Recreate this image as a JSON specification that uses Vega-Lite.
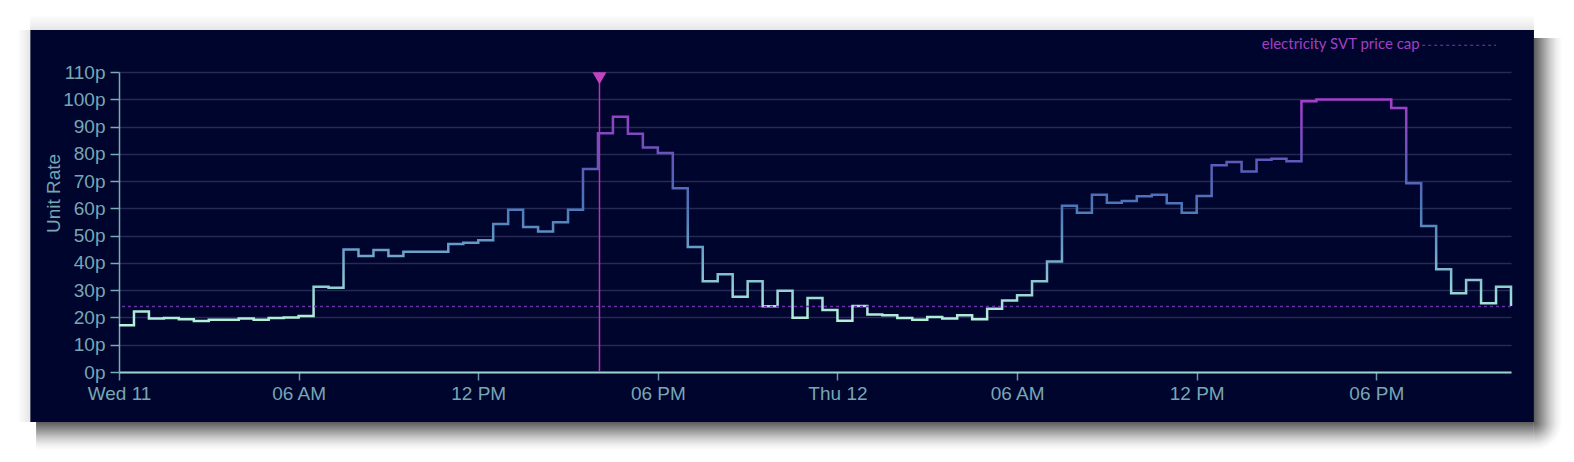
{
  "$schema": "https://vega.github.io/schema/vega-lite/v6.json",
  "width": 1392,
  "height": 300,
  "autosize": {"type": "none"},
  "padding": {"left": 119, "top": 72, "right": 63, "bottom": 90},
  "background": "#00052d",
  "config": {
    "view": {"stroke": null},
    "font": "Liberation Sans"
  },
  "resolve": {"axis": {"x": "independent", "y": "independent"}},
  "data": {
    "values": [
      {"h": 0, "v": 17.1}, {"h": 0.5, "v": 22.2}, {"h": 1, "v": 19.6}, {"h": 1.5, "v": 19.8},
      {"h": 2, "v": 19.3}, {"h": 2.5, "v": 18.7}, {"h": 3, "v": 19.2}, {"h": 3.5, "v": 19.2},
      {"h": 4, "v": 19.6}, {"h": 4.5, "v": 19.2}, {"h": 5, "v": 19.8}, {"h": 5.5, "v": 20.0},
      {"h": 6, "v": 20.5}, {"h": 6.5, "v": 31.3}, {"h": 7, "v": 30.9}, {"h": 7.5, "v": 44.9},
      {"h": 8, "v": 42.5}, {"h": 8.5, "v": 44.7}, {"h": 9, "v": 42.5}, {"h": 9.5, "v": 44.1},
      {"h": 10, "v": 44.1}, {"h": 10.5, "v": 44.1}, {"h": 11, "v": 46.9}, {"h": 11.5, "v": 47.4},
      {"h": 12, "v": 48.3}, {"h": 12.5, "v": 54.3}, {"h": 13, "v": 59.5}, {"h": 13.5, "v": 53.2},
      {"h": 14, "v": 51.5}, {"h": 14.5, "v": 54.9}, {"h": 15, "v": 59.5}, {"h": 15.5, "v": 74.4},
      {"h": 16, "v": 87.5}, {"h": 16.5, "v": 93.6}, {"h": 17, "v": 87.4}, {"h": 17.5, "v": 82.3},
      {"h": 18, "v": 80.3}, {"h": 18.5, "v": 67.4}, {"h": 19, "v": 45.8}, {"h": 19.5, "v": 33.3},
      {"h": 20, "v": 35.8}, {"h": 20.5, "v": 27.6}, {"h": 21, "v": 33.3}, {"h": 21.5, "v": 24.1},
      {"h": 22, "v": 29.8}, {"h": 22.5, "v": 19.9}, {"h": 23, "v": 27.1}, {"h": 23.5, "v": 22.7},
      {"h": 24, "v": 18.8}, {"h": 24.5, "v": 24.2}, {"h": 25, "v": 21.1}, {"h": 25.5, "v": 20.8},
      {"h": 26, "v": 19.8}, {"h": 26.5, "v": 19.2}, {"h": 27, "v": 20.2}, {"h": 27.5, "v": 19.6},
      {"h": 28, "v": 20.8}, {"h": 28.5, "v": 19.3}, {"h": 29, "v": 23.2}, {"h": 29.5, "v": 26.2},
      {"h": 30, "v": 28.1}, {"h": 30.5, "v": 33.3}, {"h": 31, "v": 40.5}, {"h": 31.5, "v": 61.0},
      {"h": 32, "v": 58.4}, {"h": 32.5, "v": 65.0}, {"h": 33, "v": 62.1}, {"h": 33.5, "v": 62.7},
      {"h": 34, "v": 64.4}, {"h": 34.5, "v": 65.0}, {"h": 35, "v": 61.9}, {"h": 35.5, "v": 58.4},
      {"h": 36, "v": 64.5}, {"h": 36.5, "v": 75.8}, {"h": 37, "v": 77.0}, {"h": 37.5, "v": 73.5},
      {"h": 38, "v": 77.8}, {"h": 38.5, "v": 78.2}, {"h": 39, "v": 77.3}, {"h": 39.5, "v": 99.3},
      {"h": 40, "v": 99.9}, {"h": 40.5, "v": 99.9}, {"h": 41, "v": 99.9}, {"h": 41.5, "v": 99.9},
      {"h": 42, "v": 99.9}, {"h": 42.5, "v": 96.8}, {"h": 43, "v": 69.2}, {"h": 43.5, "v": 53.5},
      {"h": 44, "v": 37.7}, {"h": 44.5, "v": 28.9}, {"h": 45, "v": 33.7}, {"h": 45.5, "v": 25.2},
      {"h": 46, "v": 31.3}, {"h": 46.5, "v": 24.2}
    ]
  },
  "layer": [
    {
      "mark": {
        "type": "line",
        "interpolate": "step-after",
        "strokeWidth": 2.5,
        "stroke": {
          "gradient": "linear",
          "x1": 0, "y1": 1, "x2": 0, "y2": 0,
          "stops": [
            {"offset": 0, "color": "#b8f4dc"},
            {"offset": 0.1, "color": "#a4e2d6"},
            {"offset": 0.19, "color": "#8cc8d2"},
            {"offset": 0.34, "color": "#6a9ec8"},
            {"offset": 0.52, "color": "#4c78b8"},
            {"offset": 0.7, "color": "#5a5cb8"},
            {"offset": 0.86, "color": "#8548c0"},
            {"offset": 1, "color": "#a63ecb"}
          ]
        }
      },
      "encoding": {
        "x": {
          "field": "h",
          "type": "quantitative",
          "title": null,
          "scale": {"domain": [0, 46.5], "nice": false, "zero": false},
          "axis": {
            "grid": false,
            "values": [0, 6, 12, 18, 24, 30, 36, 42],
            "tickCount": 20,
            "labelExpr": "datum.value == 0 ? 'Wed 11' : datum.value == 24 ? 'Thu 12' : (datum.value % 24 == 6 ? '06 AM' : (datum.value % 24 == 12 ? '12 PM' : '06 PM'))",
            "labelFont": "Liberation Sans",
            "labelFontSize": 19,
            "labelColor": "#78a6b4",
            "labelPadding": 4,
            "labelFlush": false,
            "labelOverlap": false,
            "domainColor": "#9ad4cc",
            "domainWidth": 2,
            "tickColor": "#6a9aaa",
            "tickWidth": 1.5,
            "tickSize": 8
          }
        },
        "y": {
          "field": "v",
          "type": "quantitative",
          "title": "Unit Rate",
          "scale": {"domain": [0, 110], "nice": false},
          "axis": {
            "grid": true,
            "values": [0, 10, 20, 30, 40, 50, 60, 70, 80, 90, 100, 110],
            "tickCount": 20,
            "labelExpr": "datum.value + 'p'",
            "labelFont": "Liberation Sans",
            "labelFontSize": 19,
            "labelColor": "#78a6b4",
            "labelPadding": 5,
            "labelFlush": false,
            "labelOverlap": false,
            "gridColor": "#262a55",
            "gridWidth": 1.5,
            "domainColor": "#78aab8",
            "domainWidth": 1.5,
            "tickColor": "#78aab8",
            "tickWidth": 1.5,
            "tickSize": 9,
            "titleFont": "Liberation Sans",
            "titleFontSize": 19,
            "titleFontWeight": "normal",
            "titleColor": "#78a6b4",
            "titleX": -66,
            "titleY": 121,
            "titleAngle": 270,
            "titleAlign": "center",
            "titleBaseline": "middle"
          }
        }
      }
    },
    {
      "data": {"values": [{}]},
      "mark": {"type": "rect", "color": "#ffffff"},
      "encoding": {
        "x": {"datum": -6, "type": "quantitative", "axis": null},
        "x2": {"datum": 52},
        "y": {"datum": 125.4, "type": "quantitative", "axis": null},
        "y2": {"datum": 145}
      }
    },
    {
      "data": {"values": [{}]},
      "mark": {"type": "rect", "color": "#ffffff"},
      "encoding": {
        "x": {"datum": -6, "type": "quantitative", "axis": null},
        "x2": {"datum": 52},
        "y": {"datum": -18.33, "type": "quantitative", "axis": null},
        "y2": {"datum": -45}
      }
    },
    {
      "data": {"values": [{}]},
      "mark": {"type": "rect", "color": "#ffffff"},
      "encoding": {
        "x": {"datum": -6, "type": "quantitative", "axis": null},
        "x2": {"datum": -2.9667},
        "y": {"datum": -45, "type": "quantitative", "axis": null},
        "y2": {"datum": 145}
      }
    },
    {
      "data": {"values": [{}]},
      "mark": {"type": "rect", "color": "#ffffff"},
      "encoding": {
        "x": {"datum": 47.2667, "type": "quantitative", "axis": null},
        "x2": {"datum": 52},
        "y": {"datum": -45, "type": "quantitative", "axis": null},
        "y2": {"datum": 145}
      }
    },
    {
      "data": {"values": [{}]},
      "mark": {
        "type": "rect",
        "fill": {"gradient": "linear", "x1": 0, "y1": 0, "x2": 1, "y2": 0,
          "stops": [
            {"offset": 0, "color": "#5c5c5c"},
            {"offset": 0.25, "color": "#8c8c8c"},
            {"offset": 0.55, "color": "#c8c8c8"},
            {"offset": 0.8, "color": "#eeeeee"},
            {"offset": 1, "color": "#ffffff"}
          ]}
      },
      "encoding": {
        "x": {"datum": 47.2667, "type": "quantitative", "axis": null},
        "x2": {"datum": 48.2034},
        "y": {"datum": 122.5, "type": "quantitative", "axis": null},
        "y2": {"datum": -18.33}
      }
    },
    {
      "data": {"values": [{}]},
      "mark": {
        "type": "rect",
        "fill": {"gradient": "linear", "x1": 0, "y1": 0, "x2": 0, "y2": 1,
          "stops": [
            {"offset": 0, "color": "#5c5c5c"},
            {"offset": 0.25, "color": "#8c8c8c"},
            {"offset": 0.55, "color": "#c8c8c8"},
            {"offset": 0.8, "color": "#eeeeee"},
            {"offset": 1, "color": "#ffffff"}
          ]}
      },
      "encoding": {
        "x": {"datum": -2.77, "type": "quantitative", "axis": null},
        "x2": {"datum": 47.2667},
        "y": {"datum": -18.33, "type": "quantitative", "axis": null},
        "y2": {"datum": -28.6}
      }
    },
    {
      "data": {"values": [{}]},
      "mark": {
        "type": "rect",
        "fill": {"gradient": "radial", "x1": 0, "y1": 0, "r1": 0, "x2": 0, "y2": 0, "r2": 1,
          "stops": [
            {"offset": 0, "color": "#5c5c5c"},
            {"offset": 0.25, "color": "#8c8c8c"},
            {"offset": 0.55, "color": "#c8c8c8"},
            {"offset": 0.8, "color": "#eeeeee"},
            {"offset": 1, "color": "#ffffff"}
          ]}
      },
      "encoding": {
        "x": {"datum": 47.2667, "type": "quantitative", "axis": null},
        "x2": {"datum": 48.2034},
        "y": {"datum": -18.33, "type": "quantitative", "axis": null},
        "y2": {"datum": -28.6}
      }
    },
    {
      "data": {"values": [{}]},
      "mark": {
        "type": "rect",
        "fill": {"gradient": "linear", "x1": 0, "y1": 0, "x2": 0, "y2": 1,
          "stops": [
            {"offset": 0, "color": "#ffffff"},
            {"offset": 1, "color": "#e6e6e6"}
          ]}
      },
      "encoding": {
        "x": {"datum": -2.9667, "type": "quantitative", "axis": null},
        "x2": {"datum": 47.2667},
        "y": {"datum": 131.0, "type": "quantitative", "axis": null},
        "y2": {"datum": 125.4}
      }
    },
    {
      "data": {"values": [{}]},
      "mark": {
        "type": "rect",
        "fill": {"gradient": "linear", "x1": 0, "y1": 0, "x2": 1, "y2": 0,
          "stops": [
            {"offset": 0, "color": "#ffffff"},
            {"offset": 1, "color": "#e6e6e6"}
          ]}
      },
      "encoding": {
        "x": {"datum": -3.4, "type": "quantitative", "axis": null},
        "x2": {"datum": -2.9667},
        "y": {"datum": 125.4, "type": "quantitative", "axis": null},
        "y2": {"datum": -18.33}
      }
    },
    {
      "data": {"values": [{}]},
      "mark": {"type": "rule", "color": "#6a2fa8", "strokeWidth": 1.5, "strokeDash": [3, 3]},
      "encoding": {
        "y": {"datum": 24.0, "type": "quantitative", "axis": null}
      }
    },
    {
      "data": {"values": [{}]},
      "mark": {"type": "rule", "color": "#b833b4", "strokeWidth": 1.5},
      "encoding": {
        "x": {"datum": 16.05, "type": "quantitative", "axis": null}
      }
    },
    {
      "data": {"values": [{}]},
      "mark": {"type": "point", "shape": "triangle-down", "filled": true, "size": 196, "color": "#c242c0", "opacity": 1},
      "encoding": {
        "x": {"datum": 16.05, "type": "quantitative", "axis": null},
        "y": {"datum": 107.7, "type": "quantitative", "axis": null}
      }
    },
    {
      "data": {"values": [{}]},
      "mark": {"type": "rule", "color": "#7040a8", "strokeWidth": 1.2, "strokeDash": [3, 3]},
      "encoding": {
        "x": {"datum": 43.5333, "type": "quantitative", "axis": null},
        "x2": {"datum": 46.0},
        "y": {"datum": 119.8, "type": "quantitative", "axis": null}
      }
    },
    {
      "data": {"values": [{}]},
      "mark": {"type": "text", "text": "electricity SVT price cap", "font": "Lato", "fontSize": 15, "color": "#a040c0", "align": "right", "baseline": "middle"},
      "encoding": {
        "x": {"datum": 43.45, "type": "quantitative", "axis": null},
        "y": {"datum": 120.1, "type": "quantitative", "axis": null}
      }
    }
  ]
}
